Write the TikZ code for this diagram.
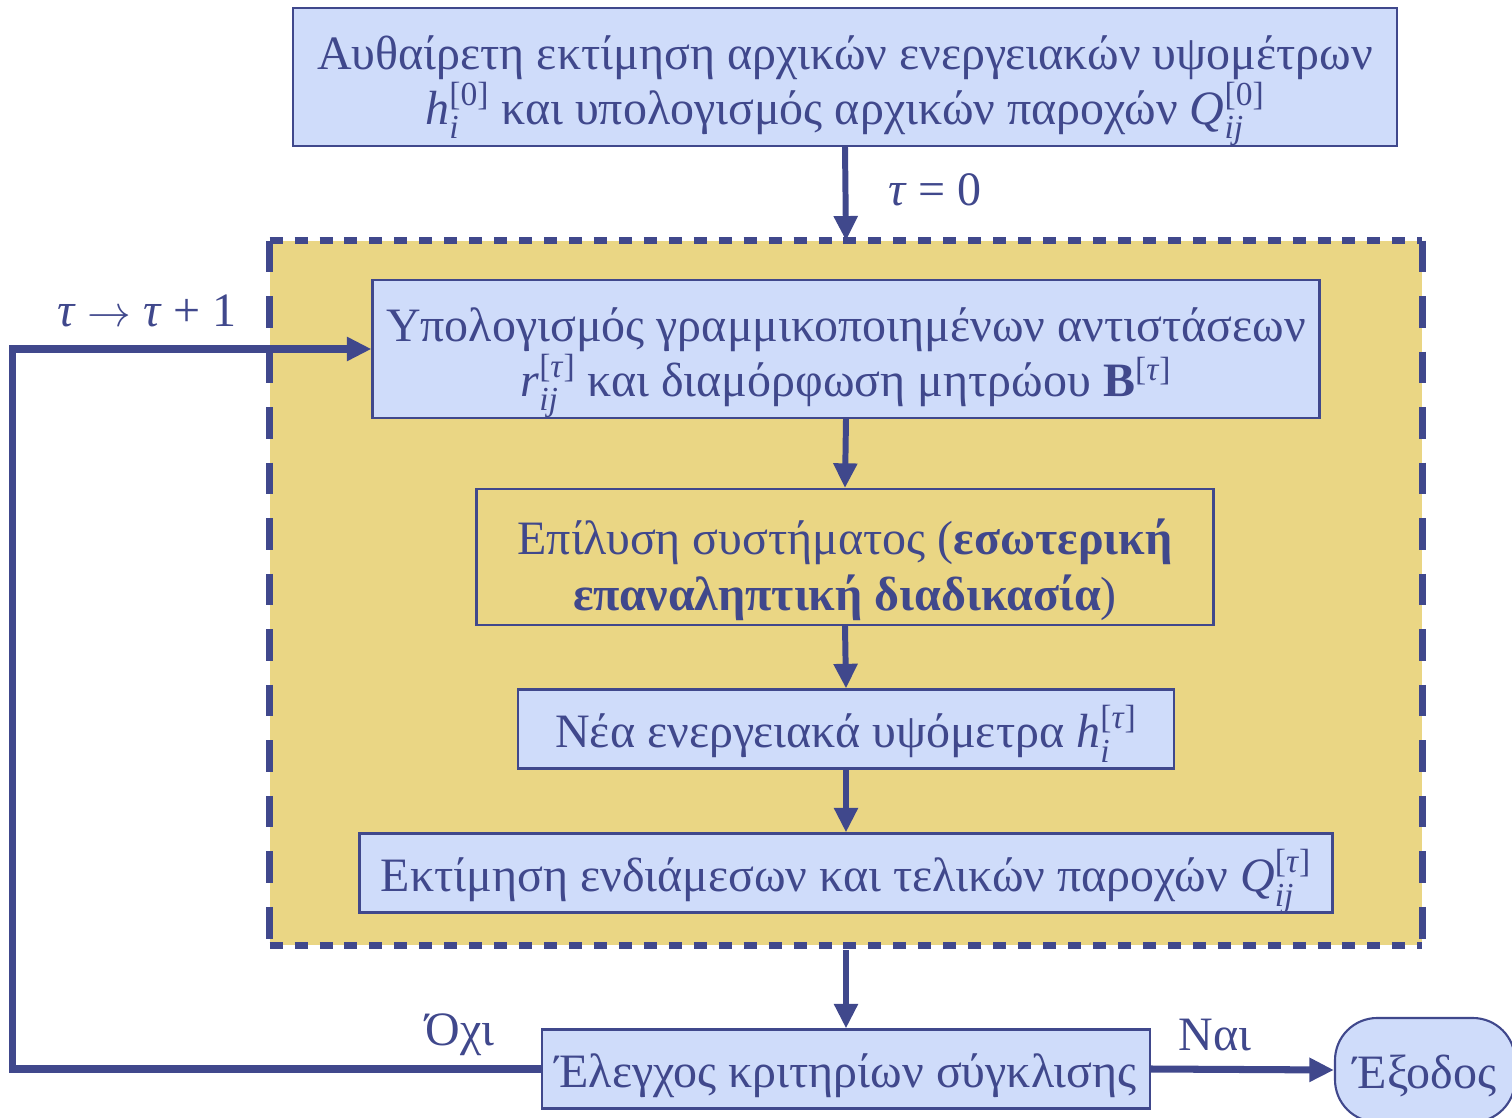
\documentclass[tikz,border=0pt]{standalone}
\usepackage{amsmath}
\usepackage{fontspec}
\setmainfont{Liberation Serif}
\usetikzlibrary{arrows.meta, positioning}
\definecolor{navy}{RGB}{64,72,140}
\definecolor{paleblue}{RGB}{207,220,250}
\definecolor{sand}{RGB}{234,214,132}
\newlength\pxu
\setlength\pxu{0.02cm}
\newcommand{\Tau}{\textit{τ}}
\newcommand{\lift}{\rule{0pt}{35pt}}

\begin{document}
\begin{tikzpicture}[x=0.02cm, y=-0.02cm,
    every node/.style={font=\fontsize{27.3}{31.5}\selectfont, text=navy},
    box/.style={draw=navy, line width=1.2pt, fill=paleblue, align=center, inner sep=0pt},
    oneline/.style={text height=23pt, text depth=1.4pt},
    flow/.style={draw=navy, line width=3.4pt, -{Triangle[length=14pt, width=13pt]}},
    hdash/.style={draw=navy, line width=4pt, dash pattern=on 7.4pt off 6.8pt},
    vdash/.style={draw=navy, line width=4pt, dash pattern=on 18pt off 13.6pt}]
  \path[use as bounding box] (0,0) rectangle (1512,1118);
  \clip (0,0) rectangle (1512,1118);

  % inner loop area
  \node[fill=sand, minimum width=1152\pxu, minimum height=704\pxu, inner sep=0pt] (inner) at (846,593) {};
  \draw[hdash] (inner.north west) -- (inner.north east);
  \draw[hdash] (inner.south west) -- (inner.south east);
  \draw[vdash] (inner.north west) -- (inner.south west);
  \draw[vdash] (inner.north east) -- (inner.south east);

  % steps
  \node[box, minimum width=1104\pxu, minimum height=136\pxu] (init) at (845,77)
    {\lift Αυθαίρετη εκτίμηση αρχικών ενεργειακών υψομέτρων\\
     $\textit{h}_{\textit{i}}^{\text{[0]}}$ και υπολογισμός αρχικών παροχών $\textit{Q}_{\textit{ij}}^{\text{[0]}}$};
  \node[box, minimum width=947\pxu, minimum height=136\pxu] (resist) at (846,349)
    {\lift Υπολογισμός γραμμικοποιημένων αντιστάσεων\\
     $\textit{r}_{\textit{ij}}^{\text{[\Tau]}}$ και διαμόρφωση μητρώου \textbf{B}$^{\text{[\Tau]}}$};
  \node[box, fill=sand, minimum width=737\pxu, minimum height=136\pxu] (solve) at (845,557)
    {\lift Επίλυση συστήματος (\textbf{εσωτερική}\\ \textbf{επαναληπτική διαδικασία})};
  \node[box, oneline, minimum width=656\pxu, minimum height=79\pxu] (heads) at (846,729)
    {Νέα ενεργειακά υψόμετρα $\textit{h}_{\textit{i}}^{\text{[\Tau]}}$};
  \node[box, oneline, minimum width=973\pxu, minimum height=79\pxu] (flows) at (846,873)
    {Εκτίμηση ενδιάμεσων και τελικών παροχών $\textit{Q}_{\textit{ij}}^{\text{[\Tau]}}$};
  \node[box, oneline, minimum width=608\pxu, minimum height=79\pxu] (check) at (846,1069)
    {Έλεγχος κριτηρίων σύγκλισης};
  \node[box, oneline, rounded corners=24pt, minimum width=180\pxu, minimum height=104\pxu] (exit) at (1425,1070)
    {Έξοδος};

  % connectors
  \draw[flow] (init.south) -- (inner.north);
  \draw[flow] (resist.south) -- (solve.north);
  \draw[flow] (solve.south) -- (heads.north);
  \draw[flow] (heads.south) -- (flows.north);
  \draw[flow] ([yshift=-5\pxu]inner.south) -- (check.north);
  \draw[flow, line width=4pt] (check.west) -- ++(-528,0) |- (resist.west);
  \draw[flow, line width=4pt] (check.east) -- (exit.west);

  % labels
  \node (start) at (935,190) {\Tau{} = 0};
  \node (step) at (147,311) {\Tau{} $\rightarrow$ \Tau{} + 1};
  \node (no) at (460,1035) {Όχι};
  \node (yes) at (1215,1035) {Ναι};
\end{tikzpicture}
\end{document}
